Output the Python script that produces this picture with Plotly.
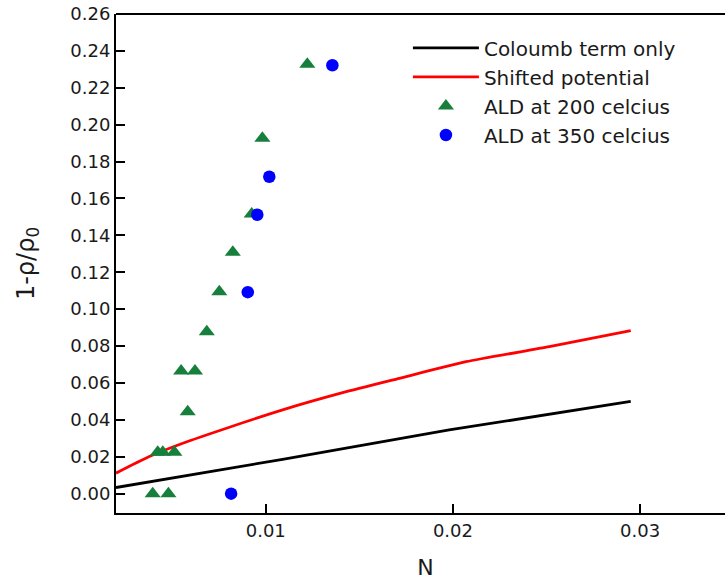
import plotly.graph_objects as go

# Model curves: relative density reduction vs N
coulomb_n = [0.0020, 0.0109, 0.0198, 0.0295]
coulomb_y = [0.0033, 0.0186, 0.0345, 0.0500]

shifted_n = [0.0020, 0.00378, 0.00557, 0.00806, 0.0109, 0.01411, 0.01714, 0.0207, 0.02515, 0.0295]
shifted_y = [0.0111, 0.0201, 0.0273, 0.0360, 0.0454, 0.0547, 0.0625, 0.0715, 0.0797, 0.0883]

# Measurements
ald200_n = [0.00396, 0.00480, 0.00423, 0.00450, 0.00512, 0.00583, 0.00548, 0.00622,
            0.00685, 0.00752, 0.00824, 0.00925, 0.00982, 0.01222]
ald200_y = [0.0000, 0.0000, 0.0224, 0.0224, 0.0224, 0.0444, 0.0665, 0.0665,
            0.0878, 0.1095, 0.1308, 0.1516, 0.1926, 0.2327]

ald350_n = [0.00815, 0.00904, 0.00955, 0.01019, 0.01356]
ald350_y = [0.0000, 0.1092, 0.1512, 0.1718, 0.2322]

y_ticks = [0.00, 0.02, 0.04, 0.06, 0.08, 0.10, 0.12, 0.14, 0.16, 0.18, 0.20, 0.22, 0.24, 0.26]
x_ticks = [0.01, 0.02, 0.03]

FONT = "DejaVu Sans, Arial, sans-serif"
TEXT = "#1a1a1a"

fig = go.Figure()
fig.add_trace(go.Scatter(x=coulomb_n, y=coulomb_y, mode="lines", name="Coloumb term only",
                         line=dict(color="black", width=2.8)))
fig.add_trace(go.Scatter(x=shifted_n, y=shifted_y, mode="lines", name="Shifted potential",
                         line=dict(color="#FF0000", width=2.8, shape="spline", smoothing=0.6)))
fig.add_trace(go.Scatter(x=ald200_n, y=ald200_y, mode="markers", name="ALD at 200 celcius",
                         marker=dict(symbol="triangle-up", size=14, color="#157F3B")))
fig.add_trace(go.Scatter(x=ald350_n, y=ald350_y, mode="markers", name="ALD at 350 celcius",
                         marker=dict(symbol="circle", size=12.5, color="#0000FF")))

# top frame line across the plot area
fig.add_shape(type="line", xref="paper", yref="paper", x0=0, x1=1, y0=1, y1=1,
              line=dict(color="black", width=2))

# the frame runs on past the right edge of the page
fig.update_layout(
    width=735, height=585,
    margin=dict(l=116, r=0, t=14, b=72),
    paper_bgcolor="white", plot_bgcolor="white",
    font=dict(family=FONT, color=TEXT, size=18),
    showlegend=True,
    legend=dict(x=0.4716, y=0.971, xanchor="left", yanchor="top",
                font=dict(family=FONT, size=20, color=TEXT),
                bgcolor="rgba(0,0,0,0)", itemwidth=66, tracegroupgap=0),
)

fig.update_xaxes(
    range=[0.0020, 0.03507], tickvals=x_ticks, tickformat=".2f",
    showgrid=False, zeroline=False,
    showline=True, linecolor="black", linewidth=2, mirror=False,
    ticks="inside", ticklen=9, tickwidth=2, tickcolor="black",
    tickfont=dict(family=FONT, size=18, color=TEXT),
    title=dict(text="N", font=dict(family=FONT, size=22, color=TEXT), standoff=20),
)
fig.update_yaxes(
    range=[-0.0105, 0.26], tickvals=y_ticks, tickformat=".2f",
    showgrid=False, zeroline=False,
    showline=True, linecolor="black", linewidth=2, mirror=False,
    ticks="inside", ticklen=9, tickwidth=2, tickcolor="black",
    tickfont=dict(family=FONT, size=18, color=TEXT),
    title=dict(text="1-ρ/ρ<sub>0</sub>", font=dict(family=FONT, size=24, color=TEXT), standoff=29),
)

fig.write_html(
    "out.html",
    config={"staticPlot": True},
    post_script="document.documentElement.style.overflow='hidden';"
                "document.body.style.overflow='hidden';document.body.style.margin='0';",
)
